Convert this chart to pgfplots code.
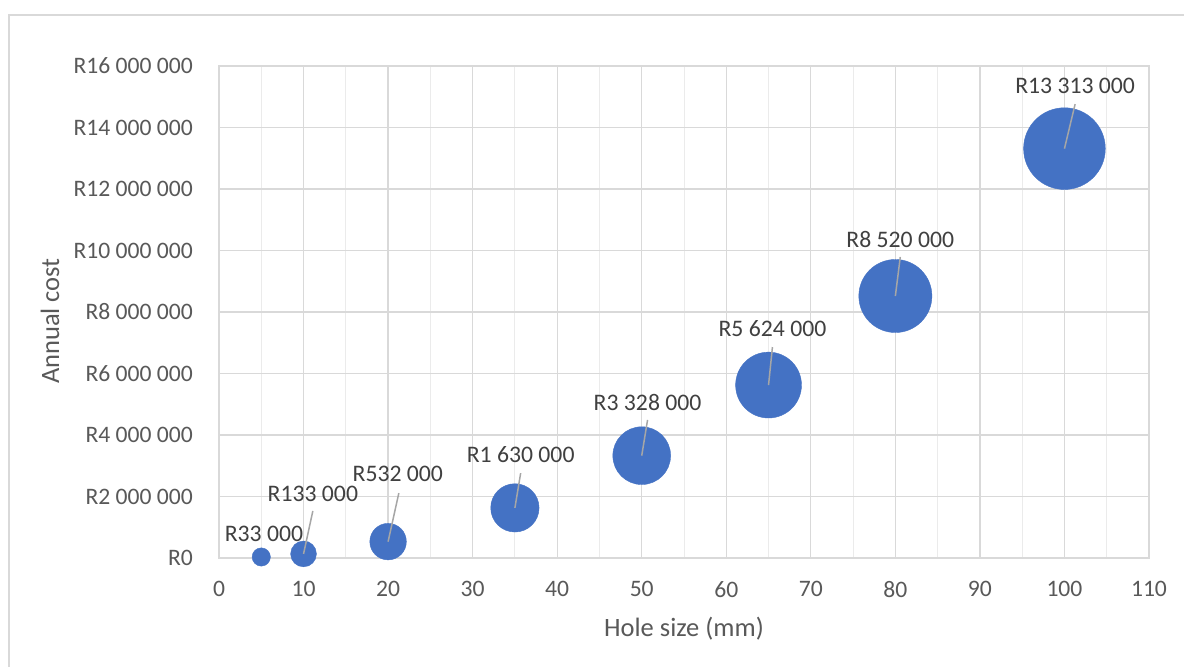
\documentclass[border=0pt]{standalone}
\usepackage{pgfplots}
\pgfplotsset{compat=1.18}
\usepackage{pgfplotstable}
\usepackage{fontspec}
\setmainfont{Carlito}
\definecolor{bubble}{HTML}{4472C4}
\definecolor{ticktext}{HTML}{595959}
\definecolor{lbltext}{HTML}{404040}
\definecolor{gridgray}{HTML}{D9D9D9}
\definecolor{minorgray}{HTML}{EBEBEB}
\definecolor{leader}{HTML}{A6A6A6}
\pgfplotstableread{
x y size
5 33000 5
10 133000 10
20 532000 20
35 1630000 35
50 3328000 50
65 5624000 65
80 8520000 80
100 13313000 100
}\bubbles
\begin{document}
\begin{tikzpicture}
\useasboundingbox (0,0) rectangle (1184bp,667bp);
\fill[white] (0,0) rectangle (1184bp,667bp);
\draw[gridgray, line width=1.2bp] (9bp,-20bp) -- (9bp,652bp) -- (1200bp,652bp);
\begin{axis}[
  at={(219bp,109bp)}, anchor=south west,
  scale only axis, width=930bp, height=492bp,
  xmin=0, xmax=110, ymin=0, ymax=16000000,
  xtick={0,10,...,110},
  xticklabels={0,10,20,30,40,50,60,70,80,90,100,110},
  minor x tick num=1,
  ytick={0,2000000,4000000,6000000,8000000,10000000,12000000,14000000,16000000},
  yticklabels={R0,R2 000 000,R4 000 000,R6 000 000,R8 000 000,R10 000 000,R12 000 000,R14 000 000,R16 000 000},
  scaled y ticks=false, scaled x ticks=false,
  /pgf/number format/assume math mode=true,
  grid=both,
  major grid style={draw=gridgray, line width=1.2bp},
  minor grid style={draw=minorgray, line width=1bp},
  axis line style={draw=gridgray, line width=1.2bp},
  major tick length=0pt, minor tick length=0pt,
  tick style={draw=none},
  ticklabel style={font=\fontsize{23.6bp}{28bp}\selectfont, text=ticktext, inner sep=0pt},
  yticklabel style={anchor=east, xshift=-26bp},
  xticklabel style={anchor=north, yshift=-23bp},
  xlabel={Hole size (mm)}, ylabel={Annual cost},
  label style={font=\fontsize{26.5bp}{30bp}\selectfont, text=ticktext, inner sep=0pt},
  xlabel style={at={(axis description cs:0.5,-0.1443)}, anchor=center},
  ylabel style={at={(axis description cs:-0.1817,0.4817)}, anchor=center, rotate=0},
  clip=false,
  clip marker paths=true,
  axis on top=false,
]
\addplot[scatter, only marks, mark=*,
  scatter/use mapped color={draw=bubble, fill=bubble},
  visualization depends on={41*sqrt(\thisrow{size}/100) \as \rad},
  scatter/@pre marker code/.append style={/tikz/mark size=\rad, /tikz/line width=0.2bp}]
  table[x=x, y=y] {\bubbles};
\addplot[leader, line width=1.5bp, no markers] coordinates {(10,133000) (11.1,1530000)};
\addplot[leader, line width=1.5bp, no markers] coordinates {(20,532000) (21.27,2110000)};
\addplot[leader, line width=1.5bp, no markers] coordinates {(35,1630000) (35.68,2760000)};
\addplot[leader, line width=1.5bp, no markers] coordinates {(50,3328000) (50.69,4490000)};
\addplot[leader, line width=1.5bp, no markers] coordinates {(65,5624000) (65.46,6860000)};
\addplot[leader, line width=1.5bp, no markers] coordinates {(80,8520000) (80.58,9790000)};
\addplot[leader, line width=1.5bp, no markers] coordinates {(100,13313000) (101.26,14760000)};
\begin{scope}[every node/.style={font=\fontsize{23.7bp}{28bp}\selectfont, text=lbltext, inner sep=0pt, anchor=center}]
\node at (axis cs:5.32,780000) {R33 000};
\node at (axis cs:11.1,2080000) {R133 000};
\node at (axis cs:21.15,2730000) {R532 000};
\node at (axis cs:35.68,3350000) {R1 630 000};
\node at (axis cs:50.69,5070000) {R3 328 000};
\node at (axis cs:65.46,7450000) {R5 624 000};
\node at (axis cs:80.58,10370000) {R8 520 000};
\node at (axis cs:101.26,15350000) {R13 313 000};
\end{scope}
\end{axis}
\end{tikzpicture}
\end{document}
